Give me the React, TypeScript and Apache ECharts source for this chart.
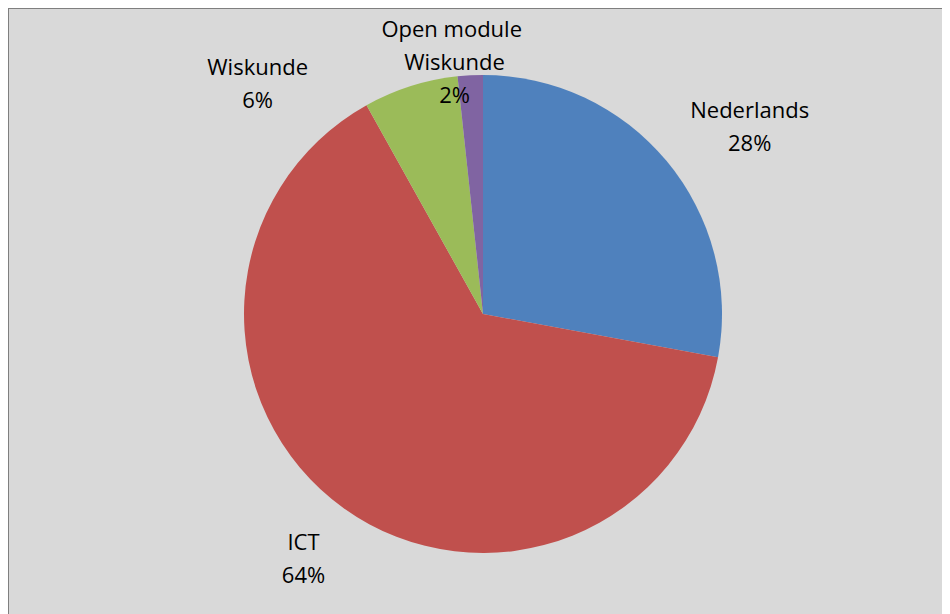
import React, { useEffect, useRef } from "react";
import * as echarts from "echarts";

const categories = ["Nederlands", "ICT", "Wiskunde", "Open module Wiskunde"];
const shares = [27.9, 64.0, 6.4, 1.7];
const sliceColors = ["#4f81bd", "#c0504d", "#9bbb59", "#8064a2"];
// label nudges (px) from the default ring position, like Excel's "best fit"
const labelShiftX = [30, 0, -132, -12];
const labelShiftY = [9, -7, 62, 55];

export default function App() {
  const ref = useRef<HTMLDivElement>(null);
  useEffect(() => {
    if (!ref.current) return;
    const chart = echarts.init(ref.current, null, { renderer: "svg" });
    const data = categories.map((name, i) => ({ name, value: shares[i] }));
    chart.setOption({
      animation: false,
      backgroundColor: "#d9d9d9",
      series: [
        {
          type: "pie",
          center: [474, 305],
          radius: 239,
          startAngle: 90,
          clockwise: true,
          silent: true,
          data: data.map((d, i) => ({ ...d, itemStyle: { color: sliceColors[i] } })),
          itemStyle: { borderWidth: 0 },
          label: { show: false },
          labelLine: { show: false },
          emphasis: { disabled: true },
        },
        {
          type: "pie",
          center: [474, 305],
          radius: [295, 315],
          startAngle: 90,
          clockwise: true,
          silent: true,
          data,
          itemStyle: { color: "transparent", borderWidth: 0 },
          emphasis: { disabled: true },
          labelLine: { show: false },
          label: {
            show: true,
            position: "inside",
            color: "#000",
            fontFamily: "Open Sans",
            fontSize: 22,
            lineHeight: 33,
            width: 160,
            overflow: "break",
            align: "center",
            formatter: (p: any) => `${p.name}\n${Math.round(p.percent)}%`,
          },
          labelLayout: (p: any) => ({
            dx: labelShiftX[p.dataIndex],
            dy: labelShiftY[p.dataIndex],
          }),
        },
      ],
    });
    return () => chart.dispose();
  }, []);
  return (
    <div
      ref={ref}
      style={{
        width: 942,
        height: 606,
        boxSizing: "border-box",
        borderLeft: "1px solid #7f7f7f",
        borderTop: "1px solid #7f7f7f",
        background: "#d9d9d9",
      }}
    />
  );
}
